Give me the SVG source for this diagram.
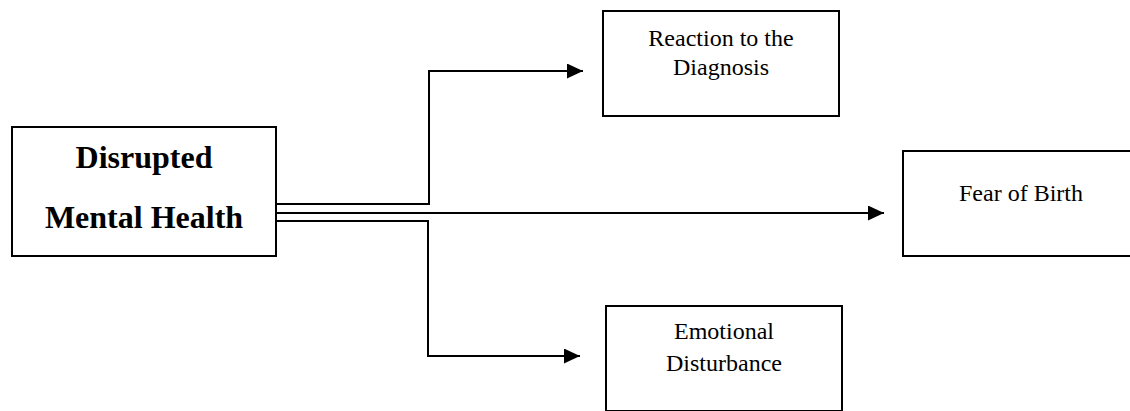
<svg xmlns="http://www.w3.org/2000/svg" width="1130" height="411" viewBox="0 0 1130 411">
<style>
.box{fill:#fff;stroke:#000;stroke-width:2}
.t{font-family:"Liberation Serif","Times New Roman",serif;font-size:24px;fill:#000;text-anchor:middle}
.tb{font-family:"Liberation Serif","Times New Roman",serif;font-size:32px;font-weight:bold;fill:#000;text-anchor:middle}
.c{fill:none;stroke:#000;stroke-width:2}
</style>
<defs>
<marker id="arr" markerUnits="userSpaceOnUse" markerWidth="18" markerHeight="16" refX="16" refY="7.5" orient="auto">
<path d="M0,0 L16,7.5 L0,15 Z" fill="#000"/>
</marker>
</defs>
<rect width="1130" height="411" fill="#fff"/>
<g id="connectors">
<path class="c" d="M276,204 H429 V71 H583" marker-end="url(#arr)"/>
<path class="c" d="M274,213 H884" marker-end="url(#arr)"/>
<path class="c" d="M276,221 H428 V356 H580" marker-end="url(#arr)"/>
</g>
<g id="disrupted">
<rect class="box" x="12" y="127" width="264" height="129"/>
<text class="tb" x="144" y="168">Disrupted</text>
<text class="tb" x="144" y="228">Mental Health</text>
</g>
<g id="reaction">
<rect class="box" x="603" y="11" width="236" height="105"/>
<text class="t" x="721" y="46">Reaction to the</text>
<text class="t" x="721" y="75">Diagnosis</text>
</g>
<g id="fear">
<rect class="box" x="903" y="151" width="236" height="105"/>
<text class="t" x="1021" y="201">Fear of Birth</text>
</g>
<g id="emotional">
<rect class="box" x="606" y="306" width="236" height="105"/>
<text class="t" x="724" y="339">Emotional</text>
<text class="t" x="724" y="371">Disturbance</text>
</g>
</svg>
